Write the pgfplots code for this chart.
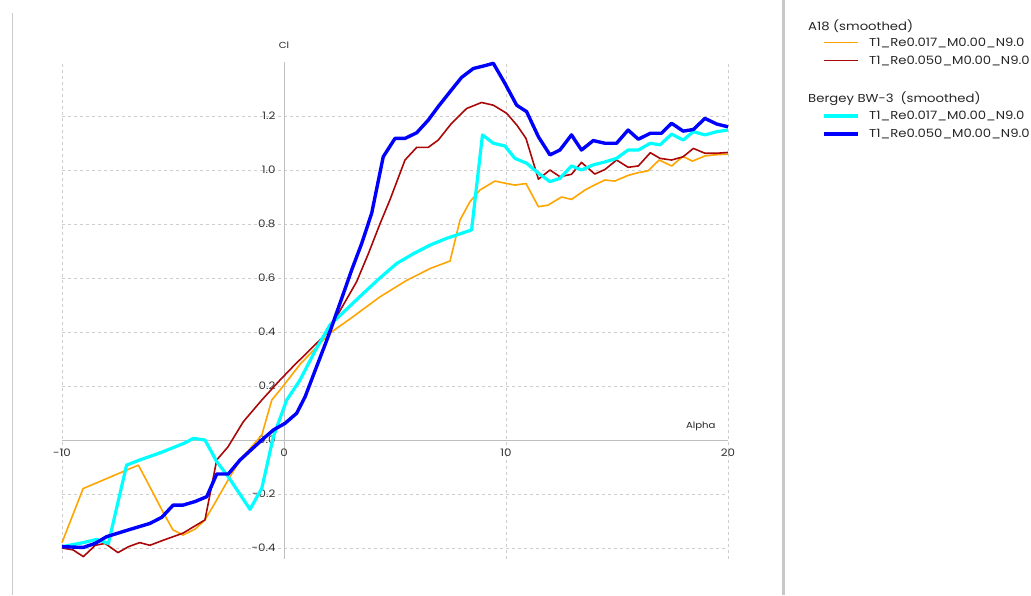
\documentclass[border=0pt]{standalone}
\usepackage{fontspec}
\setmainfont{Poppins}[FakeStretch=1.15]
\usepackage{pgfplots}
\pgfplotsset{compat=1.18}
\definecolor{cOrange}{RGB}{255,165,0}
\definecolor{cRed}{RGB}{170,8,8}
\definecolor{cCyan}{RGB}{0,255,255}
\definecolor{cBlue}{RGB}{0,0,255}
\definecolor{cGrid}{RGB}{205,205,205}
\definecolor{cAxis}{RGB}{190,190,190}
\newcommand{\tickfont}{\fontsize{10.3}{12}\selectfont}
\newcommand{\labfont}{\fontsize{8.8}{10}\selectfont}
\newcommand{\legfont}{\fontsize{11.5}{13}\selectfont}

\pgfplotstableread{
a cl
-10 -0.38
-9.05 -0.18
-6.56 -0.093
-6.0 -0.18
-5.43 -0.27
-5.0 -0.333
-4.55 -0.352
-4.0 -0.33
-3.56 -0.296
-3.03 -0.222
-2.52 -0.148
-1.98 -0.074
-1.0 0.018
-0.55 0.148
-0.18 0.185
0.72 0.28
2.07 0.396
3.0 0.45
4.32 0.53
5.5 0.59
6.58 0.635
7.48 0.663
7.93 0.815
8.38 0.883
8.83 0.926
9.5 0.959
10.03 0.95
10.4 0.944
10.9 0.95
11.46 0.864
11.9 0.87
12.5 0.90
12.95 0.891
13.56 0.926
14.0 0.945
14.46 0.963
14.9 0.959
15.5 0.98
15.95 0.99
16.4 0.997
16.9 1.037
17.46 1.015
17.97 1.05
18.4 1.033
18.96 1.052
19.4 1.056
20 1.059
}\aEighteenLow

\pgfplotstableread{
a cl
-10 -0.40
-9.5 -0.407
-9.04 -0.432
-8.5 -0.39
-8.06 -0.383
-7.48 -0.417
-7.0 -0.395
-6.5 -0.38
-6.04 -0.39
-5.5 -0.373
-4.55 -0.345
-3.56 -0.296
-3.03 -0.074
-2.52 -0.025
-1.83 0.068
-1.0 0.148
-0.18 0.222
0.5 0.28
1.0 0.32
1.98 0.40
2.6 0.49
3.27 0.586
3.8 0.69
4.32 0.80
4.77 0.889
5.45 1.037
5.98 1.084
6.5 1.084
6.95 1.111
7.55 1.173
8.23 1.228
8.9 1.25
9.43 1.24
10.03 1.21
10.5 1.165
10.9 1.117
11.46 0.966
11.98 1.0
12.43 0.975
12.95 0.984
13.4 1.028
14.0 0.985
14.46 1.002
14.98 1.037
15.5 1.01
15.96 1.015
16.5 1.064
16.94 1.043
17.46 1.037
17.98 1.049
18.44 1.08
18.96 1.062
19.5 1.062
20 1.065
}\aEighteenHigh

\pgfplotstableread{
a cl
-10 -0.395
-9.04 -0.38
-8.44 -0.368
-7.91 -0.383
-7.09 -0.093
-6.5 -0.074
-5.5 -0.045
-4.5 -0.012
-4.08 0.006
-3.56 0.0
-3.03 -0.08
-2.51 -0.136
-1.53 -0.257
-1.0 -0.179
-0.48 0.012
0.12 0.148
0.72 0.222
1.4 0.33
2.07 0.426
3.57 0.543
4.32 0.60
5.08 0.654
5.83 0.69
6.58 0.722
7.33 0.747
8.45 0.778
8.94 1.13
9.43 1.099
9.95 1.089
10.4 1.043
10.93 1.025
11.46 0.988
11.98 0.957
12.43 0.969
12.95 1.015
13.4 1.0
13.93 1.019
14.46 1.03
14.98 1.043
15.5 1.074
15.96 1.074
16.5 1.099
16.94 1.093
17.46 1.133
17.98 1.111
18.44 1.142
18.96 1.13
19.5 1.142
20 1.148
}\bergeyLow

\pgfplotstableread{
a cl
-10 -0.395
-9.04 -0.398
-8.51 -0.383
-7.99 -0.358
-7.01 -0.333
-6.04 -0.309
-5.5 -0.286
-4.99 -0.241
-4.54 -0.241
-4.01 -0.228
-3.48 -0.21
-3.03 -0.126
-2.51 -0.126
-1.98 -0.074
-1.0 0.0
-0.48 0.037
0.05 0.062
0.57 0.099
0.95 0.16
1.47 0.272
1.99 0.383
2.52 0.506
3.05 0.63
3.5 0.728
3.95 0.84
4.47 1.049
5.0 1.117
5.45 1.117
5.98 1.138
6.5 1.185
6.95 1.235
7.48 1.29
8.0 1.343
8.53 1.376
8.98 1.385
9.43 1.395
9.95 1.321
10.48 1.24
10.93 1.216
11.46 1.123
11.98 1.056
12.43 1.074
12.95 1.13
13.4 1.074
13.93 1.109
14.46 1.099
14.98 1.099
15.5 1.148
15.96 1.114
16.5 1.136
17.0 1.136
17.46 1.173
17.98 1.144
18.44 1.15
18.96 1.191
19.5 1.17
20 1.16
}\bergeyHigh

\begin{document}
\begin{tikzpicture}
\path[use as bounding box] (0pt,0pt) rectangle (1031pt,595pt);
\draw[cAxis!80, line width=1pt] (12pt,0pt) -- (12pt,582pt);
\fill[black!22] (781.5pt,0pt) rectangle (784.5pt,595pt);
\begin{axis}[
  at={(62pt,36.2pt)}, anchor=south west,
  scale only axis, width=666pt, height=496.8pt,
  xmin=-10, xmax=20, ymin=-0.44, ymax=1.40,
  axis lines=middle,
  axis line style={draw=cAxis, line width=0.9pt, -},
  xtick={-10,0,10,20},
  ytick={-0.4,-0.2,0,0.2,0.4,0.6,0.8,1.0,1.2},
  major tick length=0pt,
  grid=major,
  grid style={dashed, draw=cGrid, line width=0.9pt},
  hide obscured x ticks=false, hide obscured y ticks=false,
  /pgf/number format/assume math mode=true,
  tick label style={font=\tickfont, text=black!80},
  yticklabel style={anchor=east, xshift=-5pt, /pgf/number format/.cd, fixed, fixed zerofill, precision=1},
  xticklabel style={anchor=north, yshift=-5.5pt},
  xlabel={Alpha}, ylabel={Cl},
  label style={font=\labfont, text=black!85},
  xlabel style={at={(axis cs:20,0)}, anchor=base east, xshift=-9pt, yshift=11pt},
  ylabel style={at={(axis cs:0,1.40)}, anchor=base, rotate=0, yshift=13pt},
  clip=false,
]
\addplot[cOrange, line width=1.6pt, line join=round] table[x=a, y=cl] {\aEighteenLow};
\addplot[cRed, line width=1.6pt, line join=round] table[x=a, y=cl] {\aEighteenHigh};
\addplot[cCyan, line width=3.2pt, line join=round] table[x=a, y=cl] {\bergeyLow};
\addplot[cBlue, line width=3.4pt, line join=round] table[x=a, y=cl] {\bergeyHigh};
\end{axis}
\node[anchor=base west, font=\legfont, inner sep=0pt, text=black!85] at (808pt,564.5pt) {A18 (smoothed)};
\draw[cOrange, line width=1.6pt] (824pt,552.3pt) -- (858pt,552.3pt);
\node[anchor=base west, font=\legfont, inner sep=0pt, text=black!85] at (869pt,548.6pt) {T1\_Re0.017\_M0.00\_N9.0};
\draw[cRed, line width=1.6pt] (824pt,534.3pt) -- (858pt,534.3pt);
\node[anchor=base west, font=\legfont, inner sep=0pt, text=black!85] at (869pt,530.6pt) {T1\_Re0.050\_M0.00\_N9.0};
\node[anchor=base west, font=\legfont, inner sep=0pt, text=black!85] at (808pt,492pt) {Bergey BW-3\ \ (smoothed)};
\draw[cCyan, line width=3.2pt] (824pt,479pt) -- (858pt,479pt);
\node[anchor=base west, font=\legfont, inner sep=0pt, text=black!85] at (869pt,475.3pt) {T1\_Re0.017\_M0.00\_N9.0};
\draw[cBlue, line width=3.4pt] (824pt,461pt) -- (858pt,461pt);
\node[anchor=base west, font=\legfont, inner sep=0pt, text=black!85] at (869pt,457.3pt) {T1\_Re0.050\_M0.00\_N9.0};
\end{tikzpicture}
\end{document}
